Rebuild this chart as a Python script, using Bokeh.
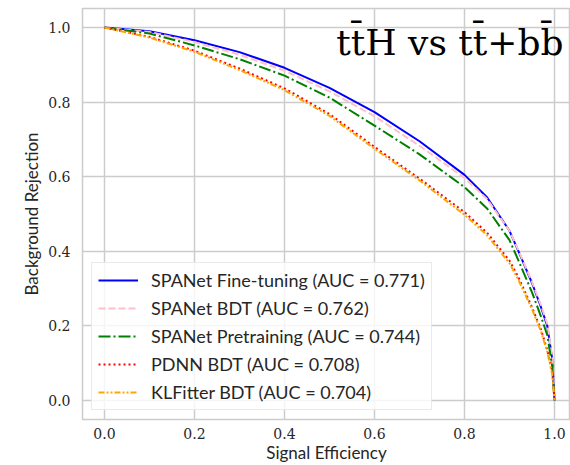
from bokeh.plotting import figure
from bokeh.models import Range1d, FixedTicker, PrintfTickFormatter, Legend, LegendItem, Label
from bokeh.embed import file_html
from bokeh.resources import INLINE

# Signal efficiency grid (x) and background rejection for each model (y)
eff = [0.0, 0.1, 0.2, 0.3, 0.4, 0.5, 0.6, 0.7, 0.8, 0.85, 0.9, 0.92, 0.95, 0.97, 0.984, 0.995, 1.0]
rej_finetune = [1.0, 0.990, 0.966, 0.934, 0.892, 0.838, 0.773, 0.695, 0.605, 0.545, 0.455, 0.400, 0.315, 0.250, 0.200, 0.110, 0.0]
rej_spanet_bdt = [1.0, 0.988, 0.961, 0.927, 0.884, 0.829, 0.762, 0.683, 0.597, 0.540, 0.455, 0.402, 0.318, 0.255, 0.205, 0.115, 0.0]
rej_pretrain = [1.0, 0.984, 0.952, 0.915, 0.871, 0.812, 0.737, 0.660, 0.572, 0.515, 0.430, 0.375, 0.290, 0.225, 0.175, 0.090, 0.0]
rej_pdnn = [1.0, 0.975, 0.938, 0.890, 0.837, 0.768, 0.680, 0.595, 0.505, 0.450, 0.375, 0.330, 0.250, 0.190, 0.135, 0.075, 0.0]
rej_klfitter = [1.0, 0.973, 0.935, 0.886, 0.832, 0.763, 0.675, 0.590, 0.498, 0.443, 0.368, 0.323, 0.245, 0.185, 0.130, 0.070, 0.0]

labels = [
    "SPANet Fine-tuning (AUC = 0.771)",
    "SPANet BDT (AUC = 0.762)",
    "SPANet Pretraining (AUC = 0.744)",
    "PDNN BDT (AUC = 0.708)",
    "KLFitter BDT (AUC = 0.704)",
]
ticks = [0.0, 0.2, 0.4, 0.6, 0.8, 1.0]
title_text = "tt\u0304H vs tt\u0304+bb\u0304"

W, H = 570, 465
LEFT, TOP, BOTTOM = 82, 8, 46
p = figure(width=W, height=H, output_backend="svg", toolbar_location=None,
           min_border_left=LEFT, min_border_right=0, min_border_top=TOP, min_border_bottom=BOTTOM)
frame_w = W - LEFT
p.x_range = Range1d(-0.0489, -0.0489 + frame_w / 450.0)
p.y_range = Range1d(-0.051, 1.051)

p.background_fill_color = "white"
p.outline_line_color = "#cccccc"
p.outline_line_width = 1.5

for ax in (p.xaxis, p.yaxis):
    ax.ticker = FixedTicker(ticks=ticks)
    ax.formatter = PrintfTickFormatter(format="%.1f")
    ax.axis_line_color = None
    ax.major_tick_line_color = None
    ax.minor_tick_line_color = None
    ax.major_tick_out = 0
    ax.major_tick_in = 0
    ax.major_label_text_font = "DejaVu Serif"
    ax.major_label_text_font_size = "14px"
    ax.major_label_text_color = "#262626"
    ax.axis_label_text_font = "Lato"
    ax.axis_label_text_font_size = "17px"
    ax.axis_label_text_font_style = "normal"
    ax.axis_label_text_color = "#262626"

p.xaxis.axis_label = "Signal Efficiency"
p.yaxis.axis_label = "Background Rejection"
p.xaxis.major_label_standoff = 8
p.yaxis.major_label_standoff = 12
p.xaxis.axis_label_standoff = 0
p.yaxis.axis_label_standoff = 3

p.xgrid.grid_line_color = "#cccccc"
p.ygrid.grid_line_color = "#cccccc"
p.xgrid.grid_line_width = 1.5
p.ygrid.grid_line_width = 1.5

r1 = p.line(eff, rej_finetune, line_color="blue", line_width=2)
r2 = p.line(eff, rej_spanet_bdt, line_color="pink", line_width=2, line_dash="7 3")
r3 = p.line(eff, rej_pretrain, line_color="green", line_width=2, line_dash="12 3 2 3")
r4 = p.line(eff, rej_pdnn, line_color="red", line_width=2, line_dash="2 3")
r5 = p.line(eff, rej_klfitter, line_color="orange", line_width=2, line_dash="6 2 2 2 2 2")

legend = Legend(items=[LegendItem(label=l, renderers=[r]) for l, r in zip(labels, [r1, r2, r3, r4, r5])],
                location="bottom_left", margin=9, padding=6, spacing=6,
                glyph_width=40, glyph_height=20, label_height=20, label_standoff=13,
                label_text_font="Lato", label_text_font_size="18px", label_text_color="#262626",
                background_fill_color="white", background_fill_alpha=0.8,
                border_line_color="#d6d6d6", border_line_width=1)
p.add_layout(legend, "center")

title = Label(x=1.02, y=0.96, text=title_text, text_align="right", text_baseline="alphabetic",
              text_font="DejaVu Serif", text_font_size="36px", text_color="black")
p.add_layout(title)

open("out.html", "w").write(file_html(p, INLINE))
